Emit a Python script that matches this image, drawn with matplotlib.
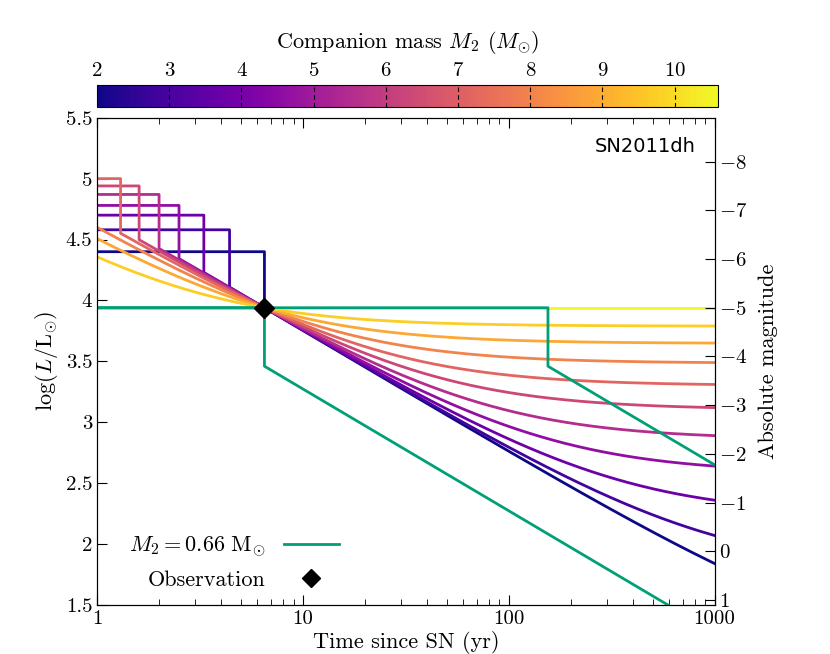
import numpy as np
import matplotlib
matplotlib.use("Agg")
import matplotlib.pyplot as plt
from matplotlib.lines import Line2D

plt.rcParams["font.family"] = "cmr10"
plt.rcParams["mathtext.fontset"] = "cm"
plt.rcParams["axes.formatter.use_mathtext"] = True
plt.rcParams["axes.unicode_minus"] = False

# data
masses = [2.0, 2.9, 3.8, 4.6, 5.5, 6.3, 7.2, 8.0, 8.9, 9.7, 10.6]
end_logL = [1.84, 2.07, 2.36, 2.64, 2.89, 3.12, 3.31, 3.49, 3.65, 3.79, 3.94]  # at 1000 yr
plateau = [4.40, 4.58, 4.70, 4.78, 4.87, 4.94, 5.00, None, None, None, None]
t_drop = [6.5, 4.4, 3.3, 2.5, 2.0, 1.6, 1.3, None, None, None, None]
obs_t, obs_logL = 6.5, 3.94
green_flat = 3.94
green_drop_level = 3.46
green_drop_times = [6.5, 155]
mag_ticks = [-8, -7, -6, -5, -4, -3, -2, -1, 0, 1]

fig = plt.figure(figsize=(8.30, 6.54), dpi=100)
ax = fig.add_axes([0.117, 0.075, 0.744, 0.745])
cmap = plt.get_cmap("plasma")
norm = matplotlib.colors.Normalize(vmin=2, vmax=10.6)

t = np.logspace(0, 3, 600)
Lobs = 10**obs_logL
for m, ye, pl, td in zip(masses, end_logL, plateau, t_drop):
    C = (10**ye - Lobs * obs_t / 1000) / (1 - obs_t / 1000)
    A = (Lobs - C) * obs_t
    if pl is not None:
        tt = np.concatenate([[1, td, td], t[t > td]])
        yy = np.log10(A / tt + C)
        yy[0] = pl
        yy[1] = pl
        ax.plot(tt, yy, color=cmap(norm(m)), lw=2)
    else:
        ax.plot(t, np.log10(A / t + C), color=cmap(norm(m)), lw=2)

gc = "#00a077"
for td in green_drop_times:
    tt = np.concatenate([[1, td, td], t[t > td]])
    yy = green_drop_level - np.log10(tt / td)
    yy[0] = green_flat
    yy[1] = green_flat
    ax.plot(tt, yy, color=gc, lw=2, zorder=3)

ax.plot([obs_t], [obs_logL], marker="D", color="black", ms=10, ls="none", zorder=5)

ax.set_xscale("log")
ax.set_xlim(1, 1000)
ax.set_ylim(1.5, 5.5)
ax.set_yticks(np.arange(1.5, 5.51, 0.5))
ax.set_yticklabels(["1.5", "2", "2.5", "3", "3.5", "4", "4.5", "5", "5.5"])
ax.set_xticks([1, 10, 100, 1000])
ax.set_xticklabels(["1", "10", "100", "1000"])
ax.tick_params(which="both", direction="in", labelsize=15, top=True)
ax.tick_params(which="major", length=7)
ax.tick_params(which="minor", length=4)
ax.set_xlabel("Time since SN (yr)", fontsize=16, labelpad=2)
ax.set_ylabel(r"$\log(L/\mathrm{L}_{\odot})$", fontsize=16)
ax.text(0.97, 0.96, "SN2011dh", transform=ax.transAxes, ha="right", va="top",
        fontsize=14, family="DejaVu Sans")

ax2 = ax.twinx()
ax2.set_ylim(1.5, 5.5)
ax2.set_yticks([1.94 - 0.4 * m for m in mag_ticks])
ax2.set_yticklabels([("$-$" + str(-m)) if m < 0 else str(m) for m in mag_ticks])
ax2.tick_params(direction="in", labelsize=15, length=7)
ax2.set_ylabel("Absolute magnitude", fontsize=16, labelpad=8)

handles = [Line2D([], [], color=gc, lw=2), Line2D([], [], marker="D", color="black", ls="none", ms=9)]
ax.legend(handles, [r"$M_2 = 0.66\ \mathrm{M}_{\odot}$", "Observation"], loc="lower left",
          markerfirst=False, frameon=False, fontsize=16, handlelength=2.5,
          bbox_to_anchor=(0.02, -0.01))

cax = fig.add_axes([0.117, 0.836, 0.748, 0.034])
sm = matplotlib.cm.ScalarMappable(norm=norm, cmap=cmap)
cb = fig.colorbar(sm, cax=cax, orientation="horizontal")
cb.set_ticks(range(2, 11))
cax.xaxis.set_ticks_position("top")
cax.xaxis.set_label_position("top")
cax.tick_params(labelsize=15, direction="in", length=0)
for v in range(3, 11):
    cax.axvline(v, color="black", ls=(0, (4, 3)), lw=0.8)
cb.set_label(r"Companion mass $M_2$ $(M_{\odot})$", fontsize=16, labelpad=10)

fig.savefig("out.png", dpi=100)
